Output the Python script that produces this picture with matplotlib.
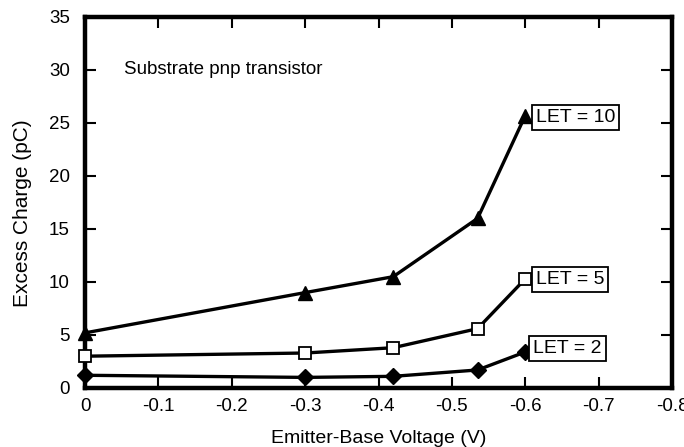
import matplotlib
matplotlib.use("Agg")
import matplotlib.pyplot as plt

plt.rcParams['font.family'] = ['Liberation Sans', 'DejaVu Sans']
plt.rcParams['axes.unicode_minus'] = False

voltage = [0.0, -0.30, -0.42, -0.535, -0.60]
let10 = [5.2, 9.0, 10.5, 16.0, 25.7]
let5 = [3.0, 3.3, 3.8, 5.6, 10.3]
let2 = [1.2, 1.0, 1.1, 1.7, 3.4]

xticks = [0, -0.1, -0.2, -0.3, -0.4, -0.5, -0.6, -0.7, -0.8]
xtick_labels = ["0", "-0.1", "-0.2", "-0.3", "-0.4", "-0.5", "-0.6", "-0.7", "-0.8"]
yticks = [0, 5, 10, 15, 20, 25, 30, 35]

fig = plt.figure(figsize=(6.84, 4.47), dpi=100)
ax = fig.add_axes([0.1243, 0.132, 0.8582, 0.830])

lw = 2.4
ax.plot(voltage, let10, color='black', lw=lw, marker='^', ms=10.5,
        mfc='black', mec='black', clip_on=False, zorder=3)
ax.plot(voltage, let5, color='black', lw=lw, marker='s', ms=9,
        mfc='white', mec='black', mew=1.3, clip_on=False, zorder=3)
ax.plot(voltage, let2, color='black', lw=lw, marker='D', ms=8,
        mfc='black', mec='black', clip_on=False, zorder=3)

ax.set_xlim(0, -0.8)
ax.set_ylim(0, 35)
ax.set_xticks(xticks)
ax.set_xticklabels(xtick_labels)
ax.set_yticks(yticks)

for s in ax.spines.values():
    s.set_linewidth(3.2)

ax.tick_params(direction='in', length=8, width=1.5, top=True, right=True,
               labelsize=13.5)
ax.tick_params(axis='x', pad=7)
ax.tick_params(axis='y', pad=11)

ax.set_xlabel("Emitter-Base Voltage (V)", fontsize=14, labelpad=11)
ax.set_ylabel("Excess Charge (pC)", fontsize=15, labelpad=12, y=0.47)

ax.text(-0.053, 30, "Substrate pnp transistor", fontsize=13.5,
        ha='left', va='center')

box = dict(boxstyle='square,pad=0.2', fc='white', ec='black', lw=1.3)
ax.text(-0.614, 25.5, "LET = 10", fontsize=14, ha='left',
        va='center', bbox=box)
ax.text(-0.614, 10.2, "LET = 5", fontsize=14, ha='left',
        va='center', bbox=box)
ax.text(-0.611, 3.7, "LET = 2", fontsize=14, ha='left',
        va='center', bbox=box)

fig.savefig("out.png", dpi=100)
